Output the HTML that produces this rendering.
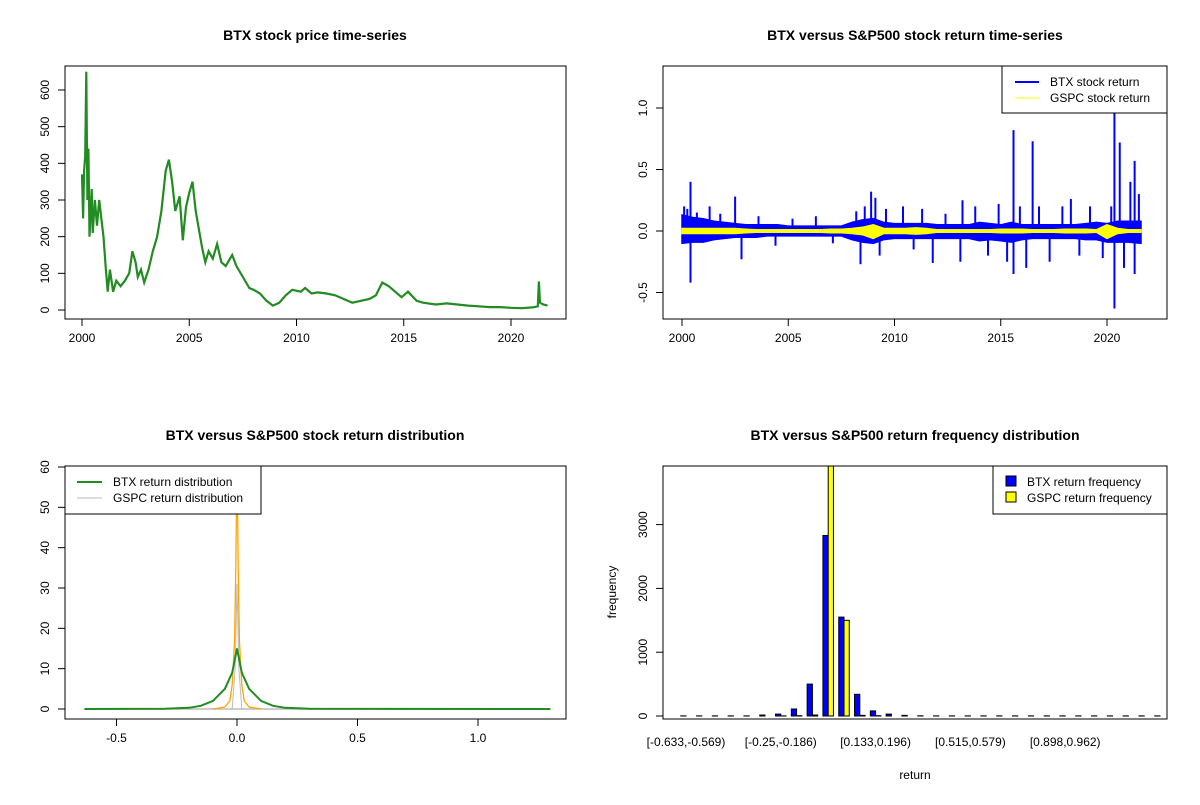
<!DOCTYPE html>
<html><head><meta charset="utf-8"><style>
body{margin:0;background:#fff}
svg text{font-family:"Liberation Sans",Arial,sans-serif;fill:#000}
</style></head><body>
<svg id="s" width="1200" height="800" xmlns="http://www.w3.org/2000/svg"></svg>
<script>
// ---------- data ----------
const priceYears=[2000.0,2000.05,2000.1,2000.15,2000.2,2000.25,2000.3,2000.35,2000.45,2000.5,2000.6,2000.7,2000.8,2000.9,2001.0,2001.1,2001.2,2001.3,2001.45,2001.6,2001.8,2002.0,2002.2,2002.35,2002.5,2002.6,2002.75,2002.9,2003.1,2003.3,2003.5,2003.7,2003.9,2004.05,2004.2,2004.35,2004.55,2004.7,2004.85,2005.0,2005.15,2005.3,2005.45,2005.6,2005.75,2005.9,2006.1,2006.3,2006.5,2006.7,2007.0,2007.2,2007.5,2007.8,2008.0,2008.3,2008.6,2008.9,2009.2,2009.5,2009.8,2010.2,2010.4,2010.7,2011.0,2011.4,2011.8,2012.2,2012.6,2013.0,2013.4,2013.7,2014.0,2014.3,2014.6,2014.9,2015.2,2015.6,2015.9,2016.5,2017.0,2017.5,2018.0,2018.5,2019.0,2019.5,2020.0,2020.5,2021.0,2021.25,2021.3,2021.35,2021.5,2021.7];
const priceValues=[370,250,380,420,650,300,440,200,330,210,300,230,300,250,200,120,50,110,50,80,65,80,100,160,130,90,110,75,110,160,200,270,380,410,350,270,310,190,280,320,350,270,220,170,130,160,140,180,130,120,150,120,90,60,55,45,25,12,20,40,55,50,60,45,48,45,40,30,20,25,30,40,75,65,50,35,50,25,20,15,18,15,12,10,8,8,6,5,7,10,78,20,15,12];
const priceTicks=[0,100,200,300,400,500,600];
const yearTicks=[2000,2005,2010,2015,2020];

const envYears=[2000,2000.5,2001,2001.5,2002,2002.5,2003,2003.5,2004,2004.5,2005,2005.5,2006,2006.5,2007,2007.5,2008,2008.5,2009,2009.5,2010,2010.5,2011,2011.5,2012,2012.5,2013,2013.5,2014,2014.5,2015,2015.5,2016,2016.5,2017,2017.5,2018,2018.5,2019,2019.5,2020,2020.5,2021,2021.6];
const btxUpper=[0.13,0.11,0.10,0.08,0.07,0.06,0.05,0.05,0.05,0.05,0.04,0.04,0.04,0.04,0.04,0.04,0.07,0.09,0.10,0.07,0.06,0.06,0.06,0.06,0.05,0.05,0.05,0.05,0.07,0.06,0.05,0.07,0.05,0.05,0.05,0.05,0.05,0.05,0.06,0.07,0.06,0.08,0.08,0.08];
const btxLower=[-0.10,-0.09,-0.09,-0.07,-0.06,-0.05,-0.05,-0.05,-0.04,-0.04,-0.04,-0.04,-0.04,-0.04,-0.04,-0.04,-0.07,-0.09,-0.10,-0.07,-0.06,-0.06,-0.06,-0.06,-0.06,-0.06,-0.06,-0.06,-0.08,-0.07,-0.08,-0.09,-0.07,-0.06,-0.06,-0.06,-0.06,-0.06,-0.07,-0.07,-0.09,-0.09,-0.09,-0.10];
const gspcUpper=[0.02,0.02,0.02,0.02,0.02,0.02,0.015,0.01,0.01,0.01,0.01,0.01,0.01,0.01,0.015,0.015,0.02,0.03,0.05,0.02,0.02,0.02,0.025,0.02,0.01,0.01,0.01,0.01,0.01,0.01,0.015,0.015,0.015,0.01,0.01,0.01,0.015,0.015,0.015,0.01,0.05,0.02,0.01,0.01];
const gspcLower=[-0.02,-0.02,-0.02,-0.02,-0.02,-0.02,-0.015,-0.01,-0.01,-0.01,-0.01,-0.01,-0.01,-0.01,-0.015,-0.015,-0.02,-0.03,-0.06,-0.02,-0.02,-0.02,-0.025,-0.02,-0.01,-0.01,-0.01,-0.01,-0.01,-0.01,-0.015,-0.015,-0.015,-0.01,-0.01,-0.01,-0.015,-0.015,-0.015,-0.01,-0.06,-0.02,-0.01,-0.01];
const spikeYears=[2000.1,2000.25,2000.4,2000.4,2000.7,2001.3,2001.8,2002.5,2002.8,2003.6,2004.4,2005.2,2006.3,2007.1,2008.2,2008.4,2008.6,2008.9,2009.1,2009.3,2009.6,2010.4,2010.9,2011.3,2011.8,2012.4,2013.1,2013.2,2013.8,2014.4,2014.9,2015.3,2015.6,2015.6,2015.9,2016.2,2016.5,2016.8,2017.3,2017.9,2018.3,2018.7,2019.2,2019.8,2020.2,2020.35,2020.35,2020.6,2020.8,2021.1,2021.3,2021.3,2021.5];
const spikeValues=[0.2,0.18,0.40,-0.42,0.15,0.2,0.14,0.28,-0.23,0.12,-0.12,0.1,0.12,-0.1,0.16,-0.27,0.2,0.32,0.27,-0.2,0.18,0.2,-0.15,0.18,-0.26,0.14,-0.25,0.25,0.2,-0.2,0.22,-0.25,0.82,-0.35,0.2,-0.3,0.73,0.2,-0.25,0.2,0.26,-0.2,0.2,-0.22,0.2,1.0,-0.63,0.72,-0.3,0.4,0.57,-0.35,0.3];
const retTicks=[-0.5,0,0.5,1.0];

const densX=[-0.633,-0.3,-0.2,-0.15,-0.1,-0.05,-0.02,-0.01,0,0.01,0.02,0.05,0.1,0.15,0.2,0.3,1.3];
const btxDens=[0,0.05,0.3,0.8,2,5,9,12,15,12,9,5,2,0.8,0.3,0.05,0];
const gspcDensX=[-0.1,-0.05,-0.03,-0.02,-0.01,-0.005,0,0.005,0.01,0.02,0.03,0.05,0.1];
const gspcDens=[0,0.5,2,6,17,35,62,35,17,6,2,0.5,0];
const grayDensX=[-0.02,-0.008,0,0.008,0.02];
const grayDens=[0,10,31,10,0];
const densTicksX=[-0.5,0,0.5,1.0];
const densTicksY=[0,10,20,30,40,50,60];

const binLabels=["[-0.633,-0.569)","[-0.25,-0.186)","[0.133,0.196)","[0.515,0.579)","[0.898,0.962)"];
const binLabelIdx=[0,6,12,18,24];
const btxFreq=[2,2,2,2,2,15,30,110,500,2830,1550,340,80,30,10,3,2,2,2,2,2,2,2,2,2,2,2,2,2,2,2];
const gspcFreq=[0,0,0,0,0,0,2,5,15,4400,1500,10,5,0,0,0,0,0,0,0,0,0,0,0,0,0,0,0,0,0,0];
const freqTicks=[0,1000,2000,3000];

// ---------- helpers ----------
const S=document.getElementById('s');const NS='http://www.w3.org/2000/svg';
function el(t,a,p){const e=document.createElementNS(NS,t);for(const k in a)e.setAttribute(k,a[k]);(p||S).appendChild(e);return e;}
function txt(x,y,s,o){o=o||{};const e=el('text',{x:x,y:y,'font-size':o.fs||12,'text-anchor':o.a||'middle'},o.p);if(o.b)e.setAttribute('font-weight','bold');if(o.r)e.setAttribute('transform','rotate(-90 '+x+' '+y+')');e.textContent=s;return e;}
function lin(d0,d1,r0,r1){return v=>r0+(v-d0)*(r1-r0)/(d1-d0);}
function group(name){const g=el('g',{});return g;}
function clip(id,x0,y0,x1,y1){const c=el('clipPath',{id:id});el('rect',{x:x0,y:y0,width:x1-x0,height:y1-y0},c);}
function box(g,x0,y0,x1,y1){const r=el('rect',{x:x0,y:y0,width:x1-x0,height:y1-y0,fill:'none',stroke:'#000','stroke-width':1},g);}
function xAxis(g,ticks,X,y,labels){const a=group('x-axis');g.appendChild(a);el('line',{x1:X(ticks[0]),x2:X(ticks[ticks.length-1]),y1:y,y2:y,stroke:'#000'},a);ticks.forEach((t,i)=>{el('line',{x1:X(t),x2:X(t),y1:y,y2:y+7,stroke:'#000'},a);txt(X(t),y+23,labels?labels[i]:String(t),{p:a});});}
function yAxis(g,ticks,Y,x,fmt){const a=group('y-axis');g.appendChild(a);el('line',{x1:x,x2:x,y1:Y(ticks[0]),y2:Y(ticks[ticks.length-1]),stroke:'#000'},a);ticks.forEach(t=>{el('line',{x1:x,x2:x-7,y1:Y(t),y2:Y(t),stroke:'#000'},a);txt(x-16,Y(t),fmt?fmt(t):String(t),{p:a,r:true});});}
function poly(xs,ys,X,Y){return xs.map((v,i)=>X(v).toFixed(1)+','+Y(ys[i]).toFixed(1)).join(' ');}

// ---------- panel 1 ----------
(function(){const g=group('price-panel');S.appendChild(g);
const X=lin(2000,2020,82,511),Y=lin(0,600,310,90);
clip('c1',65,66,566,319);
const l=el('polyline',{points:poly(priceYears,priceValues,X,Y),fill:'none',stroke:'#228B22','stroke-width':2.2,'stroke-linejoin':'miter','clip-path':'url(#c1)'},g);

box(g,65,66,566,319);xAxis(g,yearTicks,X,319);yAxis(g,priceTicks,Y,65);
const t=txt(315,40,'BTX stock price time-series',{fs:14,b:true,p:g});})();

// ---------- panel 2 ----------
(function(){const g=group('return-panel');S.appendChild(g);
const X=lin(2000,2020,682,1107),Y=lin(0,1,231,108);
clip('c2',663,66,1167,319);
const xs=envYears.concat(envYears.slice().reverse());
const b=el('polygon',{points:poly(xs,btxUpper.concat(btxLower.slice().reverse()),X,Y),fill:'#0000FF',stroke:'#0000FF','stroke-width':1.5,'clip-path':'url(#c2)'},g);

spikeYears.forEach((yr,i)=>{const s=el('line',{x1:X(yr),x2:X(yr),y1:Y(0),y2:Y(spikeValues[i]),stroke:'#0000FF','stroke-width':2,'clip-path':'url(#c2)'},g);});
const y=el('polygon',{points:poly(xs,gspcUpper.concat(gspcLower.slice().reverse()),X,Y),fill:'#FFFF00',stroke:'#FFFF00','stroke-width':1.5},g);

box(g,663,66,1167,319);xAxis(g,yearTicks,X,319);yAxis(g,retTicks,Y,663,t=>t.toFixed(1));
const lg=group('return-legend');g.appendChild(lg);
el('rect',{x:1002,y:66,width:165,height:47,fill:'#fff',stroke:'#000'},lg);
el('line',{x1:1015,x2:1039,y1:82,y2:82,stroke:'#0000FF','stroke-width':2},lg);
el('line',{x1:1015,x2:1039,y1:98,y2:98,stroke:'#FFFF00','stroke-width':1},lg);
txt(1050,86,'BTX stock return',{a:'start',p:lg});txt(1050,102,'GSPC stock return',{a:'start',p:lg});
const t=txt(915,40,'BTX versus S&P500 stock return time-series',{fs:14,b:true,p:g});})();

// ---------- panel 3 ----------
(function(){const g=group('density-panel');S.appendChild(g);
const X=lin(0,0.5,237,357.5),Y=lin(0,60,709,467);
clip('c3',65,466,566,719);
const z=el('line',{x1:X(-0.633),x2:X(1.3),y1:Y(0),y2:Y(0),stroke:'#bbb','stroke-width':1.5},g);
const o=el('polyline',{points:poly(gspcDensX,gspcDens,X,Y),fill:'none',stroke:'#FFA500','stroke-width':1.3,'clip-path':'url(#c3)'},g);
const gr=el('polyline',{points:poly(grayDensX,grayDens,X,Y),fill:'none',stroke:'#bbb','stroke-width':1,'clip-path':'url(#c3)'},g);
const gd=el('polyline',{points:poly(densX,btxDens,X,Y),fill:'none',stroke:'#228B22','stroke-width':2,'clip-path':'url(#c3)'},g);
box(g,65,466,566,719);xAxis(g,densTicksX,X,719,['-0.5','0.0','0.5','1.0']);yAxis(g,densTicksY,Y,65);
const lg=group('density-legend');g.appendChild(lg);
el('rect',{x:65,y:466,width:196,height:48,fill:'#fff',stroke:'#000'},lg);
el('line',{x1:77,x2:102,y1:482,y2:482,stroke:'#228B22','stroke-width':2},lg);
el('line',{x1:77,x2:102,y1:498,y2:498,stroke:'#bbb','stroke-width':1},lg);
txt(113,486,'BTX return distribution',{a:'start',p:lg});txt(113,502,'GSPC return distribution',{a:'start',p:lg});
const t=txt(315,440,'BTX versus S&P500 stock return distribution',{fs:14,b:true,p:g});})();

// ---------- panel 4 ----------
(function(){const g=group('frequency-panel');S.appendChild(g);
const X=lin(2,5,686,701.8),Y=lin(0,1000,716,652.2);
clip('c4',663,466,1167,719);
btxFreq.forEach((v,i)=>{const c=3*i+2;
const r=el('rect',{x:X(c-1),y:Y(v),width:X(c)-X(c-1),height:Y(0)-Y(v),fill:'#0000FF',stroke:'#000','stroke-width':1,'clip-path':'url(#c4)'},g);
const w=gspcFreq[i];const r2=el('rect',{x:X(c),y:Y(w),width:X(c+1)-X(c),height:Y(0)-Y(w),fill:'#FFFF00',stroke:'#000','stroke-width':1,'clip-path':'url(#c4)'},g);});
box(g,663,466,1167,719);yAxis(g,freqTicks,Y,663);
binLabelIdx.forEach((k,i)=>{const t=txt(X(3*k+2),746,binLabels[i],{p:g});});
const xt=txt(915,779,'return',{p:g});
const yt=txt(616,592,'frequency',{p:g,r:true});
const lg=group('frequency-legend');g.appendChild(lg);
el('rect',{x:993,y:466,width:174,height:48,fill:'#fff',stroke:'#000'},lg);
el('rect',{x:1006,y:476,width:10,height:10,fill:'#0000FF',stroke:'#000'},lg);
el('rect',{x:1006,y:492,width:10,height:10,fill:'#FFFF00',stroke:'#000'},lg);
txt(1027,486,'BTX return frequency',{a:'start',p:lg});txt(1027,502,'GSPC return frequency',{a:'start',p:lg});
const t=txt(915,440,'BTX versus S&P500 return frequency distribution',{fs:14,b:true,p:g});})();
</script>
</body></html>
